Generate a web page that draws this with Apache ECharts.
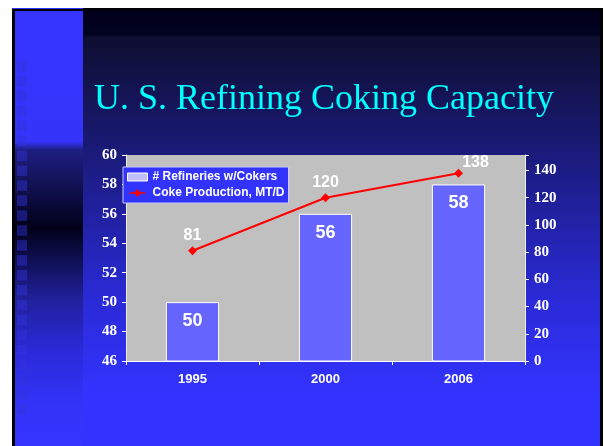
<!DOCTYPE html>
<html>
<head>
<meta charset="utf-8">
<script src="https://cdn.jsdelivr.net/npm/echarts@6/dist/echarts.min.js"></script>
<style>
  html, body { margin: 0; padding: 0; background: #fff; }
  #main { width: 604px; height: 446px; }
</style>
</head>
<body>
<div id="main"></div>
<script>
// chart data
var years = ['1995', '2000', '2006']
var refineries = [50, 56, 58]
var cokeProduction = [81, 120, 138]
var leftTicks = { min: 46, max: 60, step: 2 }
var rightTicks = { min: 0, max: 151.4, step: 20, lastLabel: 140 }

var chart = echarts.init(document.getElementById('main'))

// slide decoration: frame, gradients, little squares on the left strip
var deco = [
  { type: 'rect', shape: { x: 12, y: 8, width: 591, height: 438 }, style: { fill: '#000' } },
  {
    type: 'rect', shape: { x: 15, y: 10, width: 585, height: 436 },
    style: {
      fill: new echarts.graphic.LinearGradient(0, 0, 0, 1, [
        { offset: 0, color: '#00001c' },
        { offset: 0.058, color: '#020222' },
        { offset: 0.062, color: '#0e0e30' },
        { offset: 0.32, color: '#1a1a78' },
        { offset: 0.66, color: '#2a2ad6' },
        { offset: 0.88, color: '#3333ff' },
        { offset: 1, color: '#3333ff' }
      ])
    }
  },
  { type: 'rect', shape: { x: 12, y: 8, width: 71, height: 1 }, style: { fill: '#3333ff' } },
  {
    type: 'rect', shape: { x: 15, y: 11, width: 68, height: 435 },
    style: {
      fill: new echarts.graphic.LinearGradient(0, 0, 0, 1, [
        { offset: 0, color: '#3535ff' },
        { offset: 0.30, color: '#3434fa' },
        { offset: 0.32, color: '#1e1e80' },
        { offset: 0.50, color: '#01011a' },
        { offset: 0.66, color: '#20209a' },
        { offset: 0.78, color: '#2a2ad8' },
        { offset: 0.9, color: '#3333f8' },
        { offset: 1, color: '#3535ff' }
      ])
    }
  }
]
for (var i = 0; i < 24; i++) {
  deco.push({
    type: 'rect',
    shape: { x: 17, y: 61 + i * 14.93, width: 10, height: 10.5 },
    style: { fill: 'rgba(51,51,220,0.45)' }
  })
}
deco.forEach(function (d) { d.z = -10; d.silent = true })

var serifLabel = {
  color: '#fff',
  fontFamily: 'Liberation Serif',
  fontWeight: 'bold',
  fontSize: 15
}

var option = {
  backgroundColor: '#fff',
  animation: false,
  graphic: deco,
  title: {
    text: 'U. S. Refining Coking Capacity',
    left: 89,
    top: 77,
    textStyle: {
      color: '#00ffff',
      fontFamily: 'Liberation Serif',
      fontWeight: 'normal',
      fontSize: 36
    }
  },
  legend: {
    orient: 'vertical',
    left: 123,
    top: 167,
    padding: [3, 4, 3, 4],
    itemGap: 2,
    itemWidth: 20,
    itemHeight: 8,
    backgroundColor: '#3333ff',
    borderColor: '#c8c8ff',
    borderWidth: 1,
    borderRadius: 0,
    textStyle: { color: '#fff', fontFamily: 'Liberation Sans', fontWeight: 'bold', fontSize: 12, lineHeight: 14 },
    data: [
      { name: '# Refineries w/Cokers', icon: 'rect', itemStyle: { color: '#c0c0ff', borderColor: '#fff', borderWidth: 1 } },
      {
        name: 'Coke Production, MT/D',
        icon: 'path://M0,4.2L6.5,4.2L10,0L13.5,4.2L20,4.2L20,5.8L13.5,5.8L10,10L6.5,5.8L0,5.8Z',
        itemStyle: { color: '#ff0000', borderWidth: 0 }
      }
    ]
  },
  grid: {
    left: 126,
    right: 79,
    top: 155,
    bottom: 85,
    show: true,
    backgroundColor: '#c0c0c0',
    borderWidth: 0
  },
  xAxis: {
    type: 'category',
    data: years,
    axisLine: { lineStyle: { color: '#fff', width: 1 } },
    axisTick: { show: true, length: 4, lineStyle: { color: '#fff' } },
    axisLabel: { color: '#fff', fontFamily: 'Liberation Sans', fontWeight: 'bold', fontSize: 13, margin: 12 }
  },
  yAxis: [
    {
      type: 'value',
      min: leftTicks.min,
      max: leftTicks.max,
      interval: leftTicks.step,
      splitLine: { show: false },
      axisLine: { show: true, lineStyle: { color: '#eee' } },
      axisTick: { show: true, length: 4, lineStyle: { color: '#fff' } },
      axisLabel: Object.assign({ margin: 9 }, serifLabel)
    },
    {
      type: 'value',
      position: 'right',
      min: rightTicks.min,
      max: rightTicks.max,
      interval: rightTicks.step,
      splitLine: { show: false },
      axisLine: { show: true, lineStyle: { color: '#eee' } },
      axisTick: { show: true, length: 4, lineStyle: { color: '#fff' } },
      axisLabel: Object.assign({
        margin: 9,
        formatter: function (v) { return v > rightTicks.lastLabel ? '' : v }
      }, serifLabel)
    }
  ],
  series: [
    {
      name: '# Refineries w/Cokers',
      type: 'bar',
      yAxisIndex: 0,
      data: refineries,
      barWidth: '40%',
      itemStyle: { color: '#6666ff', borderColor: '#fff', borderWidth: 1 },
      label: {
        show: true,
        position: 'insideTop',
        distance: 10,
        color: '#fff',
        fontFamily: 'Liberation Sans',
        fontWeight: 'bold',
        fontSize: 18
      }
    },
    {
      name: 'Coke Production, MT/D',
      type: 'line',
      yAxisIndex: 1,
      data: cokeProduction.map(function (v, i) {
        return i === cokeProduction.length - 1 ? { value: v, label: { offset: [17, 5] } } : v
      }),
      symbol: 'diamond',
      symbolSize: 9,
      lineStyle: { color: '#ff0000', width: 2 },
      itemStyle: { color: '#ff0000' },
      label: {
        show: true,
        position: 'top',
        distance: 3,
        color: '#fff',
        fontFamily: 'Liberation Sans',
        fontWeight: 'bold',
        fontSize: 16
      }
    }
  ]
}

chart.setOption(option)
</script>
</body>
</html>
